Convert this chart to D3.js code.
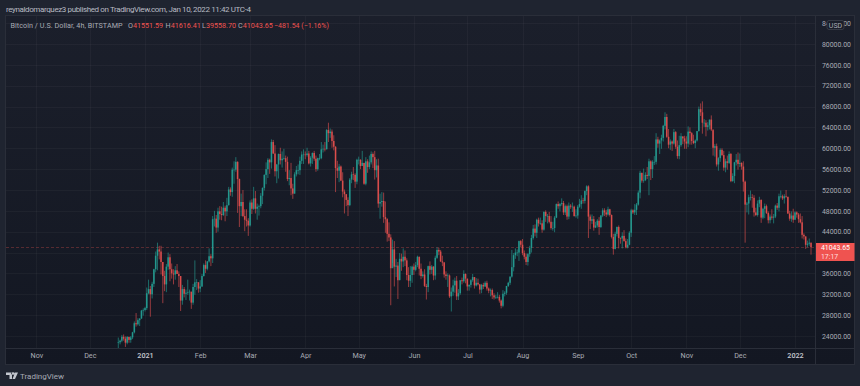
<!DOCTYPE html>
<html>
<head>
<meta charset="utf-8">
<script src="https://cdn.jsdelivr.net/npm/d3@7"></script>
<style>
html, body { margin: 0; padding: 0; background: #1f2430; overflow: hidden; }
svg { display: block; }
text { font-family: Roboto, sans-serif; }
</style>
</head>
<body>
<svg width="860" height="386"></svg>
<script>
// daily readings in thousands of USD, first candle is 17 Dec 2020
var firstDay = "2020-12-17", firstOpen = 22.7;

var closes = [
 22.8,23.1,23.85,23.48,22.72,23.81,23.25,23.73,24.7,26.45,26.25,27.04,27.35,28.88,28.99,
 29.35,32.2,33,32,34,36.8,39.4,40.6,40.2,38.2,35.5,33.9,37.3,39.1,36.8,36,35.8,36.6,35.9,35.5,30.8,33,32.1,32.3,32.4,32.5,30.4,33.4,34.3,34.3,33.1,
 33.5,35.5,37.6,36.9,38.3,39.3,38.9,46.4,46.5,44.8,47.9,47.4,47.2,48.6,47.9,49.1,52.1,51.6,55.9,55.9,57.4,54.1,48.9,49.7,47,46.3,46.1,45.2,
 49.6,48.4,50.4,48.4,48.8,48.9,50.9,52.4,54.9,56,57.8,57.3,61.2,59,55.6,56.9,58.9,57.7,58,58.1,57.4,54.1,54.3,52.3,51.3,55,55.8,55.8,57.6,58.8,58.8,
 58.7,59,57.1,58.2,59.1,58,56,58.1,58.1,59.8,59.9,59.8,63.5,62.9,63.2,61.4,60.3,56.2,55.7,56.5,53.8,51.7,51.2,50.1,49.1,54,55,54.9,53.6,57.8,
 57.8,56.6,57.2,53.2,57.5,56.4,57.3,58.9,58.3,55.8,56.7,49.4,49.7,49.9,46.8,46.4,43.6,42.9,37,40.6,37.3,37.5,34.7,38.8,38.3,39.2,38.5,35.7,34.6,35.7,37.3,
 36.7,37.6,39.2,36.9,35.5,35.8,33.6,33.4,37.4,36.7,37.3,35.6,39,40.5,40.2,38.3,38.1,35.8,35.5,35.6,31.6,32.5,33.7,34.6,31.6,32.2,34.7,34.5,35.9,35,
 33.5,33.8,34.7,35.3,33.7,34.2,33.9,32.9,33.8,33.5,34.2,33.1,32.7,32.8,31.8,31.4,31.5,31.5,30.8,29.8,32.1,32.3,33.6,34.2,35.4,37.2,39.5,40,40,42.2,41.5,
 39.9,39.2,38.2,39.7,40.9,42.8,44.6,43.8,46.3,45.6,45.6,44.4,47.8,47,47,45.9,44.7,44.7,46.7,49.3,48.9,49.3,49.5,47.7,48.9,46.9,49,48.8,48.8,47,47.1,
 48.8,49.3,50,49.9,51.8,52.7,46.9,46.1,46.4,44.8,45.2,46.1,44.9,47.1,48.1,47.7,47.3,48.3,47.2,43,40.7,43.6,44.9,42.8,42.7,43.2,42.2,41,41.5,43.8,
 48.1,47.7,48.2,49.2,51.5,55.3,53.8,53.9,54.9,54.7,57.5,56,57.4,57.4,61.7,60.9,61.5,62,64.3,66,62.2,60.7,61.3,60.9,63.1,60.3,58.5,60.6,62.3,61.9,61.3,
 60.9,63.2,62.9,61.4,61,61.5,63.3,67.5,66.9,64.9,64.9,64.1,64.4,65.5,63.6,60.1,60.4,56.9,58.1,59.7,58.7,56.3,57.5,57.2,58.9,53.7,54.7,57.3,57.8,57,
 57.2,56.5,53.6,49.2,49.4,50.6,50.6,50.5,47.7,47.2,49.4,50.1,46.7,48.4,48.9,47.6,46.2,46.9,46.7,46.9,49,48.6,50.8,50.8,50.4,50.8,50.7,47.5,46.5,47.1,46.3,
 47.7,47.3,46.4,45.8,43.4,43.1,41.5,41.7,41.9,41.04
];

var highs = [
 23.7,23.3,24.2,24.3,23.9,24,23.9,24,24.8,26.8,28.4,27.4,27.4,29,29.3,
 29.6,33.3,34.8,33.6,34.4,36.9,40.2,41.9,41.3,41.3,38.2,36.5,37.8,40,39.7,37.9,36.8,37.4,37.8,36.4,35.5,33.8,33.4,32.9,34.8,32.9,32.5,34,38.5,34.9,34.3,
 34.7,35.9,37.9,38.5,38.4,40.8,39.7,47,48,47.2,48.6,48.9,48.8,49.7,49,50.5,52.6,52.5,56.3,57.5,58.3,57.5,54.2,51.3,52,48.3,48.3,46.6,
 50,50.2,52.6,51.8,49.4,49.2,51.4,52.5,55,57.3,58.1,58,61.7,61.6,60.6,57,59,60.1,59.4,59.9,58.6,58.4,55.8,57.2,53.2,55.4,56.6,56.9,58.4,59.4,59.8,
 59.4,60.1,59.5,58.5,59.2,59.5,58.6,58.2,58.9,61.2,60.7,61.2,63.7,64.9,63.8,63.6,62.5,60.4,57.6,57,56.7,55.4,52.1,51.2,50.6,54.3,55.5,56.4,55.2,58,
 58.4,57.9,59.5,57.2,58.3,57.9,58.6,59.4,59.2,59.5,57.9,58,51.3,51.6,51.5,49.8,46.6,45.8,43.5,42.5,42.2,38.8,38.2,39.9,39.8,40.8,40.4,38.9,37.2,37.4,37.5,
 37.9,38.2,39.4,39.2,37.9,36.4,36.8,34,37.5,38.3,37.6,37.4,39.4,41,40.9,40.5,39.4,38.2,36.4,36,35.8,33.3,34.8,35.2,35.5,33,34.7,35.2,36.6,36,
 35,33.9,34.9,35.9,35.3,35.1,35,34,34,34.2,34.5,34.6,33.3,33.1,33.1,32.2,31.9,32.4,31.9,31,32.8,32.6,33.6,34.4,35.4,40.5,39.9,40.8,40.6,42.3,42.4,
 42.6,40.4,39.8,39.9,41.3,43.4,45.3,45.4,46.5,46.7,46.7,46.2,47.9,48.1,47.4,47.8,47,45.9,47,49.4,49.8,49.5,50.4,49.9,49.2,49.2,49.6,49.3,49.6,49,48.3,
 49.1,50.3,51,50.5,51.9,52.9,52.9,47.3,47.3,47,45.9,46.4,46.8,47.2,48.5,48.5,48.2,48.8,48.4,47.3,43.6,44,45,45.2,42.9,43.9,44.3,42.7,42.6,44.1,
 48.4,48.3,49.3,49.5,51.9,55.7,55.3,56.1,55.4,56.4,58,57.7,57.7,58.5,62.9,62.2,61.7,62.6,64.5,66.9,66.6,63.7,61.7,61.5,63.7,63.3,61.5,62.4,62.9,62.2,62.4,
 62.3,64.2,64,63.1,62.6,61.7,63.3,68,68.6,69,65.6,65.4,65,65.5,66.3,63.4,60.8,60.9,58.3,60,60,59.5,58,58.6,59.4,59.1,55.2,57.4,58.9,59.2,
 59,57.3,57.5,53.8,49.7,51.1,51.9,51.2,51,48.6,50,50.7,50.2,48.6,49.4,49.2,47.9,47.3,48.3,47.4,49.2,49.5,51.3,51.9,51.1,51.2,52,50.7,48,47.9,48.4,
 47.9,47.9,47.6,47.5,47,43.7,43.1,42.3,42.7,41.9
];

var lows = [
 21.5,22.4,22.8,23.1,21.9,22.4,22.7,22.7,23.4,24.5,25.8,26,25.9,27.3,27.9,
 28.7,29,32,27.7,31.2,33.4,36.2,36.6,38.7,35.8,30.3,32.6,32.4,36.7,34.5,35,33.9,34.8,35.9,33.4,28.8,30,31.4,30.9,31.9,30.8,29.2,30,31.9,32.8,32.3,
 32.4,33.4,35.4,36.1,36.6,38.1,37.4,38,45,43.8,44,46.3,46.2,47,46,47,49,50.9,50.7,53.2,55.5,47.6,44.9,47,46.8,44.1,45,43.2,
 45,47.4,48.2,47.5,46.3,47.1,48.5,49.3,51.9,53.1,54.3,55.1,56.1,58.9,54.6,53.3,54.2,56.9,56.3,57.8,55.5,53.7,52.9,51,50.3,51.3,54.6,55,54.9,57,57,
 57.9,58.4,56.9,56.5,57,57.6,55.5,55.7,57.7,57.9,59.2,59.4,59.8,61.2,62,60.1,59.6,51.6,54.3,53.5,53.7,50.6,47.5,48.9,47,48.9,53.3,53.9,52.4,53.1,
 56.9,56,56.9,53,52.9,55.3,56,56.9,56.2,54,54.4,48.6,46.5,48.8,45.7,43.8,42.1,42.2,29.9,38,33.5,35.3,31.1,34.7,36.5,37.2,37.4,34.7,33.4,33.4,34.2,
 35.7,36.4,37.2,35.6,34.9,35.2,33.4,31,32.4,35.8,35.9,34.7,34.8,38.8,39.5,38.2,37.4,35.2,34.8,33.4,31.3,28.7,31.7,32.3,30.9,30.9,31.9,33.9,34.2,34.1,
 32.7,32.7,33.3,34.4,33.1,33.5,33.7,32.1,32.2,33,33.4,32.7,32.2,31.6,31.1,31,31.1,31.2,30.4,29.3,29.5,31.6,31.9,33.4,33.8,35.2,36.4,38.8,39.3,38.4,41,
 39.5,38.7,37.6,37.5,39.2,40,42.5,43.1,42.8,45,45.3,43.8,44.2,45.9,45.6,45.6,44.4,44.2,43.9,46.6,48.4,47.9,49,47.2,47.2,46.3,46.4,48.4,47.8,46.9,46.7,
 46.5,48.6,48.4,49.4,49.4,51,42.8,44.5,45.5,44.2,44.7,44.8,43.4,44.7,46.8,47,46.8,47.1,46.9,42.7,39.6,40.6,43.1,40.8,41.7,40.8,42.1,40.8,40.8,41.4,
 43,47.4,47.2,47.2,49,50.4,53.4,53.4,53.7,54.1,51,53.9,54.3,56.8,56.9,60.1,58.9,59.9,61.3,63.6,62,60,59.7,59.5,60.7,59.9,58,57.9,60.3,60.8,59.9,
 59.9,60.2,60.7,60.7,60.8,60,61.3,63.2,66.2,62.8,64.1,62.3,63.4,63.6,63.3,58.6,58.4,56.5,55.7,57.4,58.5,55.7,55.4,55.9,57,53.5,53.6,53.3,56.7,55.9,
 56.4,55.9,51.7,41.9,47.7,47.3,50,48.6,46.9,47,46.9,48.7,45.7,46.4,46.6,47.4,45.6,45.6,46.3,45.6,46.6,48.2,47.9,50.4,50.1,49.4,50.5,47.4,46.1,45.9,45.7,
 46.3,46.7,45.7,45.6,42.7,42.5,40.7,41,41.3,39.6
];

var priceTicks = [24000, 28000, 32000, 36000, 40000, 44000, 48000, 52000, 56000, 60000, 64000, 68000, 72000, 76000, 80000, 84000];
var hiddenPriceLabel = 40000; // sits behind the last price tag
var timeTicks = ["2020-11-01", "2020-12-01", "2021-01-01", "2021-02-01", "2021-03-01", "2021-04-01", "2021-05-01", "2021-06-01", "2021-07-01", "2021-08-01", "2021-09-01", "2021-10-01", "2021-11-01", "2021-12-01", "2022-01-01"].map(function (d) { return new Date(d); });

var lastPrice = 41043.65;
var legendName = "Bitcoin / U.S. Dollar, 4h, BITSTAMP";
var legendValues = [["O", "41551.59", 128], ["H", "41616.41", 165.5], ["L", "39558.70", 202], ["C", "41043.65", 238]];

var upColor = "#26a69a", downColor = "#ef5350", textColor = "#a9acb5";

var svg = d3.select("svg");
var panel = {left: 5, top: 15, right: 855, bottom: 365},
    plot = {right: 815.5, bottom: 348};

var xScale = d3.scaleUtc()
    .domain([new Date("2021-01-01"), new Date("2022-01-01")])
    .range([145, 795]);
var yScale = d3.scaleLinear()
    .domain([24000, 80000])
    .range([336, 44]);

var defs = svg.append("defs");
var bg = defs.append("linearGradient").attr("id", "panelBg").attr("x1", 0).attr("x2", 0).attr("y1", 0).attr("y2", 1);
bg.append("stop").attr("offset", 0).attr("stop-color", "#1b1f2b");
bg.append("stop").attr("offset", 1).attr("stop-color", "#131722");
defs.append("filter").attr("id", "soft").append("feGaussianBlur").attr("stdDeviation", 0.35);

svg.append("rect")
    .attr("x", panel.left + 0.5).attr("y", panel.top + 0.5)
    .attr("width", panel.right - panel.left - 1).attr("height", panel.bottom - panel.top - 1)
    .attr("fill", "url(#panelBg)").attr("stroke", "#2a2e39");

// grid
var grid = svg.append("g").attr("stroke", "#ffffff").attr("stroke-opacity", 0.035);
grid.selectAll("line.h").data(priceTicks).enter().append("line")
    .attr("x1", panel.left + 1).attr("x2", plot.right)
    .attr("y1", function (d) { return Math.round(yScale(d)) + 0.5; })
    .attr("y2", function (d) { return Math.round(yScale(d)) + 0.5; });
grid.selectAll("line.v").data(timeTicks).enter().append("line")
    .attr("x1", function (d) { return Math.round(xScale(d)) + 0.5; })
    .attr("x2", function (d) { return Math.round(xScale(d)) + 0.5; })
    .attr("y1", panel.top + 1).attr("y2", plot.bottom);

// last price line
svg.append("line")
    .attr("x1", panel.left + 1).attr("x2", plot.right)
    .attr("y1", Math.round(yScale(lastPrice)) + 0.5).attr("y2", Math.round(yScale(lastPrice)) + 0.5)
    .attr("stroke", "#ef5350").attr("stroke-opacity", 0.3)
    .attr("stroke-dasharray", "3,2");

// candles
var candles = closes.map(function (c, i) {
  var day = new Date(firstDay);
  day.setUTCDate(day.getUTCDate() + i);
  return {
    date: day,
    open: (i ? closes[i - 1] : firstOpen) * 1000,
    close: c * 1000,
    high: highs[i] * 1000,
    low: lows[i] * 1000
  };
});

var candle = svg.append("g").attr("filter", "url(#soft)").selectAll("g").data(candles).enter().append("g");
candle.append("line")
    .attr("x1", function (d) { return xScale(d.date); })
    .attr("x2", function (d) { return xScale(d.date); })
    .attr("y1", function (d) { return yScale(d.high); })
    .attr("y2", function (d) { return yScale(d.low); })
    .attr("stroke-width", 0.9)
    .attr("stroke-opacity", 0.65)
    .attr("stroke", function (d) { return d.close >= d.open ? upColor : downColor; });
candle.append("rect")
    .attr("x", function (d) { return xScale(d.date) - 0.8; })
    .attr("width", 1.6)
    .attr("y", function (d) { return yScale(Math.max(d.open, d.close)); })
    .attr("height", function (d) { return Math.max(0.6, Math.abs(yScale(d.open) - yScale(d.close))); })
    .attr("fill-opacity", 0.8)
    .attr("fill", function (d) { return d.close >= d.open ? upColor : downColor; });

// axis separators
svg.append("line").attr("x1", plot.right).attr("x2", plot.right).attr("y1", panel.top + 1).attr("y2", panel.bottom - 1).attr("stroke", "#2a2e39");
svg.append("line").attr("x1", panel.left + 1).attr("x2", panel.right - 1).attr("y1", plot.bottom + 0.5).attr("y2", plot.bottom + 0.5).attr("stroke", "#2a2e39");

// axes
var yAxis = svg.append("g")
    .attr("transform", "translate(" + (plot.right + 6.5) + ",0)")
    .call(d3.axisRight(yScale)
      .tickValues(priceTicks.filter(function (d) { return d !== hiddenPriceLabel; }))
      .tickSize(0).tickPadding(0).tickFormat(d3.format(".2f")));
yAxis.select(".domain").remove();
yAxis.selectAll("text").attr("fill", textColor).style("font-size", "6.9px").style("font-family", "Roboto, sans-serif");

var monthName = d3.utcFormat("%b");
var xAxis = svg.append("g")
    .attr("transform", "translate(0,353)")
    .call(d3.axisBottom(xScale).tickValues(timeTicks).tickSize(0).tickPadding(0).tickFormat(function (d) {
      return d.getUTCMonth() === 0 ? d.getUTCFullYear() : monthName(d);
    }));
xAxis.select(".domain").remove();
xAxis.selectAll("text")
    .attr("fill", function (d) { return d.getUTCMonth() === 0 ? "#c8cbd3" : textColor; })
    .style("font-size", "7.2px")
    .style("font-weight", function (d) { return d.getUTCMonth() === 0 ? 500 : 400; })
    .style("font-family", "Roboto, sans-serif");

// last price tag
svg.append("rect").attr("x", 816).attr("y", 243).attr("width", 38.5).attr("height", 18).attr("fill", "#ef5350");
svg.append("text").attr("x", 821).attr("y", 250).attr("font-size", 6.9).attr("fill", "#fff").text(d3.format(".2f")(lastPrice));
svg.append("text").attr("x", 821).attr("y", 259).attr("font-size", 6.9).attr("fill", "#ffdede").text("17:17");

// USD pill
svg.append("rect").attr("x", 827).attr("y", 20.5).attr("width", 17).attr("height", 9).attr("rx", 2).attr("fill", "#1a1e2a").attr("stroke", "#363a45");
svg.append("text").attr("x", 835.5).attr("y", 27.5).attr("text-anchor", "middle").attr("font-size", 7).attr("fill", textColor).text("USD");

// header
svg.append("text").attr("x", 6).attr("y", 12).attr("font-size", 8).attr("fill", "#b8bbc3")
    .attr("textLength", 245)
    .text("reynaldomarquez3 published on TradingView.com, Jan 10, 2022 11:42 UTC-4");
svg.append("text").attr("x", 10.5).attr("y", 28).attr("font-size", 7.2).attr("fill", textColor)
    .attr("textLength", 112)
    .text(legendName);
legendValues.forEach(function (v) {
  var t = svg.append("text").attr("x", v[2]).attr("y", 28).attr("font-size", 7.2).attr("fill", downColor);
  t.append("tspan").attr("fill", textColor).text(v[0]);
  t.append("tspan").text(v[1]);
});
svg.append("text").attr("x", 274).attr("y", 28).attr("font-size", 7).attr("fill", downColor).text("\u2212481.54 (\u22121.16%)");

// footer logo
svg.append("path")
    .attr("d", "M6 372.5H12V379H9.5V375H6ZM13 374.5A1.2 1.2 0 1 0 13 372.4A1.2 1.2 0 1 0 13 374.5ZM15 372.5H18L15 379H12.5Z")
    .attr("fill", "#c4c7cf");
svg.append("text").attr("x", 20).attr("y", 379).attr("font-size", 8).attr("fill", "#a8abb5").text("TradingView");
</script>
</body>
</html>
